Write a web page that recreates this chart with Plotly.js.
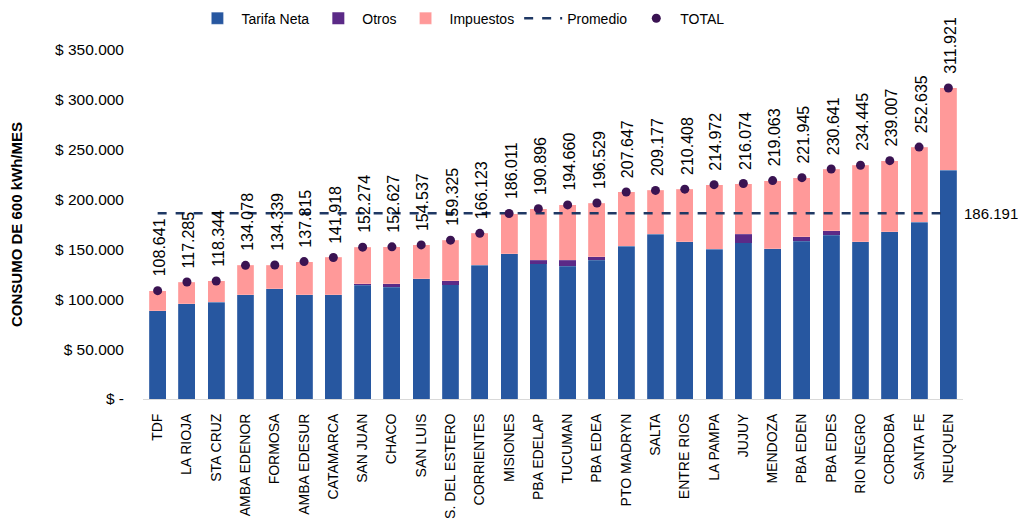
<!DOCTYPE html>
<html>
<head>
<meta charset="utf-8">
<script src="https://cdn.plot.ly/plotly-3.0.1.min.js"></script>
<style>html,body{margin:0;padding:0;background:#fff;}#chart{width:1018px;height:519px;}</style>
</head>
<body>
<div id="chart"></div>
<script>
const categories = ["TDF","LA RIOJA","STA CRUZ","AMBA EDENOR","FORMOSA","AMBA EDESUR","CATAMARCA","SAN JUAN","CHACO","SAN LUIS","S. DEL ESTERO","CORRIENTES","MISIONES","PBA EDELAP","TUCUMAN","PBA EDEA","PTO MADRYN","SALTA","ENTRE RIOS","LA PAMPA","JUJUY","MENDOZA","PBA EDEN","PBA EDES","RIO NEGRO","CORDOBA","SANTA FE","NEUQUEN"];
const tarifaNeta = [88500,95500,97200,104500,110800,104500,104500,114200,112200,120500,114500,134300,145500,135800,133200,139200,153200,165200,157800,150200,156800,150500,158200,164200,157800,167800,177500,229500];
const otros = [0,0,0,0,0,0,0,1600,3300,0,4000,0,0,3300,6000,3600,0,0,0,0,8400,0,4600,4600,0,0,0,0];
const impuestos = [20141,21785,21144,29578,23539,33315,37418,36474,37127,34037,40825,31823,40511,51796,55460,53729,54447,43977,52608,64772,50874,68563,59145,61841,76645,71207,75135,82421];
const total = [108641,117285,118344,134078,134339,137815,141918,152274,152627,154537,159325,166123,186011,190896,194660,196529,207647,209177,210408,214972,216074,219063,221945,230641,234445,239007,252635,311921];
const promedio = 186191;
const yTickVals = [0,50000,100000,150000,200000,250000,300000,350000];
const yTickText = ["$ -","$ 50.000","$ 100.000","$ 150.000","$ 200.000","$ 250.000","$ 300.000","$ 350.000"];

function fmt(n){ return String(Math.round(n)).replace(/\B(?=(\d{3})+(?!\d))/g, "."); }

const FONT = "'Liberation Sans', Arial, sans-serif";
const barLine = {color:'rgba(255,255,255,0.35)', width:0.5};

const traces = [
  {type:'bar', name:'Tarifa Neta', x:categories, y:tarifaNeta, marker:{color:'#2757A0', line:barLine}, hoverinfo:'y'},
  {type:'bar', name:'Otros', x:categories, y:otros, marker:{color:'#5B2A87', line:{width:0}}, hoverinfo:'y'},
  {type:'bar', name:'Impuestos', x:categories, y:impuestos, marker:{color:'#FF9999', line:barLine}, hoverinfo:'y'},
  {type:'scatter', mode:'lines', name:'Promedio', x:categories, y:categories.map(()=>promedio), line:{color:'#1F3864', width:2.5, dash:'dash'}},
  {type:'scatter', mode:'markers', name:'TOTAL', x:categories, y:total, marker:{color:'#3A1352', size:9}}
];

const annotations = categories.map((c,i)=>({
  x:c, y:total[i], xref:'x', yref:'y', text:fmt(total[i]), textangle:-90,
  showarrow:false, xanchor:'center', yanchor:'bottom', yshift:12, xshift:2,
  font:{family:FONT, size:16, color:'#000'}
}));
annotations.push({
  x:categories[categories.length-1], y:promedio, xref:'x', yref:'y', text:fmt(promedio),
  showarrow:false, xanchor:'left', yanchor:'middle', xshift:14,
  font:{family:FONT, size:15, color:'#000'}
});

const layout = {
  width:1018, height:519,
  margin:{l:143, r:55, t:50, b:120, autoexpand:false},
  paper_bgcolor:'#fff', plot_bgcolor:'#fff',
  barmode:'stack', bargap:0.42,
  font:{family:FONT, color:'#000'},
  showlegend:true,
  legend:{orientation:'h', xref:'container', yref:'container', x:0.19, y:0.995, xanchor:'left', yanchor:'top', font:{family:FONT, size:14, color:'#000'}, traceorder:'normal', itemwidth:38},
  xaxis:{type:'category', range:[-0.5, categories.length-0.5], tickangle:-90, tickfont:{family:FONT, size:14, color:'#000'}, showline:true, linecolor:'#D9D9D9', linewidth:1, showgrid:false, ticks:'', ticklabelstandoff:8, automargin:false},
  yaxis:{range:[0,350000], tickvals:yTickVals, ticktext:yTickText, tickfont:{family:FONT, size:15.5, color:'#000'}, showgrid:false, zeroline:false, showline:false, ticks:'', ticklabelstandoff:18, automargin:false,
    title:{text:'CONSUMO DE 600 kWh/MES', font:{family:FONT, size:15, color:'#000', weight:'bold'}, standoff:28}},
  annotations:annotations
};

Plotly.newPlot('chart', traces, layout, {displayModeBar:false, staticPlot:true});
</script>
</body>
</html>
